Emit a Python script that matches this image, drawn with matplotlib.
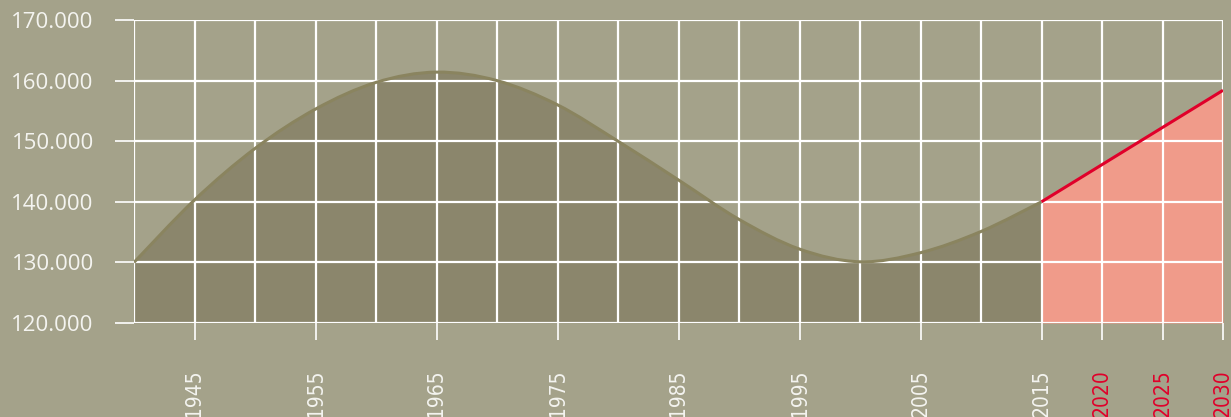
import numpy as np
import matplotlib.pyplot as plt
from matplotlib.path import Path
from matplotlib.patches import PathPatch

years = [1940, 1945, 1950, 1955, 1960, 1965, 1970, 1975, 1980,
         1985, 1990, 1995, 2000, 2005, 2010, 2015]
population = [130000, 140300, 148800, 155300, 159700, 161400, 160000,
              156000, 150000, 143600, 137100, 132200, 130100, 131600,
              135100, 140000]

forecast_years = [2015, 2030]
forecast_values = [140000, 158400]

label_years = [1945, 1955, 1965, 1975, 1985, 1995, 2005, 2015, 2020, 2025, 2030]
y_ticks = [120000, 130000, 140000, 150000, 160000, 170000]

BG = "#a4a28a"
FILL = "#8b866c"
LINE = "#8a845f"
RED = "#e0002a"
PINK = "#f09b8a"
WHITE = "#f4f4f0"


def smooth_path(x, y, base=None):
    # catmull-rom segments as cubic bezier, drawn by matplotlib's Path
    x = np.asarray(x, float)
    y = np.asarray(y, float)
    verts = [(x[0], y[0])]
    codes = [Path.MOVETO]
    n = len(x)
    for i in range(n - 1):
        i0 = max(i - 1, 0)
        i3 = min(i + 2, n - 1)
        c1 = (x[i] + (x[i + 1] - x[i0]) / 6, y[i] + (y[i + 1] - y[i0]) / 6)
        c2 = (x[i + 1] - (x[i3] - x[i]) / 6, y[i + 1] - (y[i3] - y[i]) / 6)
        verts += [c1, c2, (x[i + 1], y[i + 1])]
        codes += [Path.CURVE4] * 3
    if base is not None:
        verts += [(x[-1], base), (x[0], base), (x[0], y[0])]
        codes += [Path.LINETO, Path.LINETO, Path.CLOSEPOLY]
    return Path(verts, codes)


fig = plt.figure(figsize=(12.31, 4.17), dpi=100, facecolor=BG)
ax = fig.add_axes([134 / 1231, 1 - 323 / 417, 1089 / 1231, 303 / 417])
ax.set_facecolor(BG)

ax.set_xlim(1940, 2030)
ax.set_ylim(120000, 170000)

ax.add_patch(PathPatch(smooth_path(years, population, base=120000),
                       facecolor=FILL, edgecolor="none", zorder=1))
ax.fill_between(forecast_years, forecast_values, 120000, color=PINK,
                lw=0, zorder=1)

ax.set_xticks(np.arange(1940, 2031, 5), minor=True)
ax.set_xticks(label_years)
ax.set_yticks(y_ticks)
ax.set_yticklabels([f"{v:,}".replace(",", ".") for v in y_ticks])

ax.grid(True, which="both", color="white", lw=1.6, zorder=2)
ax.set_axisbelow(False)

ax.add_patch(PathPatch(smooth_path(years, population), facecolor="none",
                       edgecolor=LINE, lw=2.2, zorder=3))
ax.plot(forecast_years, forecast_values, color=RED, lw=2.2, zorder=4,
        solid_capstyle="butt")

for s in ax.spines.values():
    s.set_visible(False)

ax.tick_params(axis="y", which="major", length=14, width=1.2, color="white",
               pad=15, labelsize=16, labelcolor=WHITE)
ax.tick_params(axis="x", which="major", length=12.5, width=1.2, color="white",
               pad=21, labelsize=15, labelcolor=WHITE, labelrotation=90)
ax.tick_params(axis="x", which="minor", length=0)

for lbl in ax.get_yticklabels():
    lbl.set_family(["Open Sans", "DejaVu Sans"])
for lbl, yr in zip(ax.get_xticklabels(), label_years):
    lbl.set_family("DejaVu Sans")
    lbl.set_fontstretch("condensed")
    lbl.set_va("top")
    if yr > 2015:
        lbl.set_color(RED)

fig.savefig("out.png", dpi=100, facecolor=BG)
